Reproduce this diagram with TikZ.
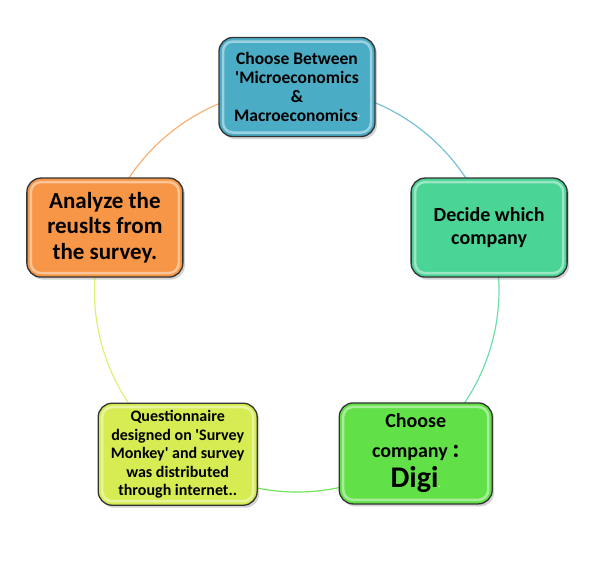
\documentclass[tikz,border=0pt]{standalone}
\usepackage{fontspec}
\setmainfont{Carlito}
\usetikzlibrary{calc,shadows,backgrounds}

\definecolor{stepblue}{RGB}{75,172,198}
\definecolor{stepteal}{RGB}{74,212,150}
\definecolor{stepgreen}{RGB}{98,224,72}
\definecolor{steplime}{RGB}{214,236,82}
\definecolor{steporange}{RGB}{247,150,70}

\begin{document}
\begin{tikzpicture}[x=1pt,y=1pt,
 stepbox/.style={draw=black!80,line width=1.3pt,rounded corners=14pt,
 align=center,minimum width=156pt,minimum height=99pt,inner sep=3pt,
 drop shadow={shadow xshift=2pt,shadow yshift=-2.5pt,opacity=0.35},
 path picture={\draw[white,opacity=0.45,line width=2.5pt,rounded corners=10pt]
 ([shift={(4pt,4pt)}]path picture bounding box.south west) rectangle
 ([shift={(-4pt,-4pt)}]path picture bounding box.north east);}},
 stepfont/.style 2 args={font=\bfseries\fontsize{#1}{#2}\selectfont},
 ring/.style={line width=1.2pt}]
\useasboundingbox (0,0) rectangle (603,-565);
\coordinate (c) at (297,-290);
\node[stepbox,fill=stepblue,stepfont={17.5}{19}] (choose) at ($(c)+(90:203)$)
 {Choose Between\\
 \textquotesingle Microeconomics\\ \&\\
 Macroeconomics{\color{white!85!stepblue}\fontsize{9}{9}\selectfont\textquotesingle}};
\node[stepbox,fill=stepteal,stepfont={20}{23}] (decide) at ($(c)+(18:202)$)
 {Decide which\\ company};
\node[stepbox,fill=stepgreen,minimum width=153pt,minimum height=101pt,
 stepfont={20}{30}] (digi) at ($(c)+(-54:202)$)
 {Choose\\
 company {\fontsize{26}{26}\selectfont:}\\
 {\fontsize{30}{30}\selectfont Digi}{\color{white}\fontsize{9}{9}\selectfont.}};
\node[stepbox,fill=steplime,minimum width=159pt,minimum height=102pt,
 stepfont={16}{18.5}] (survey) at ($(c)+(-126:203)$)
 {Questionnaire\\
 designed on \textquotesingle Survey\\ Monkey\textquotesingle{} and survey\\
 was distributed\\ through internet..};
\node[stepbox,fill=steporange,stepfont={23}{25.5}] (analyze) at ($(c)+(162:202)$)
 {Analyze the\\ reuslts from\\ the survey.};
\begin{scope}[on background layer]
\draw[ring,stepblue!75] (choose.center) arc[start angle=90,end angle=18,radius=202];
\draw[ring,stepteal!80] (decide.center) arc[start angle=18,end angle=-54,radius=202];
\draw[ring,stepgreen!90] (digi.center) arc[start angle=-54,end angle=-126,radius=202];
\draw[ring,steplime!80] (survey.center) arc[start angle=-126,end angle=-198,radius=202];
\draw[ring,steporange!75] (analyze.center) arc[start angle=162,end angle=90,radius=202];
\end{scope}
\end{tikzpicture}
\end{document}
